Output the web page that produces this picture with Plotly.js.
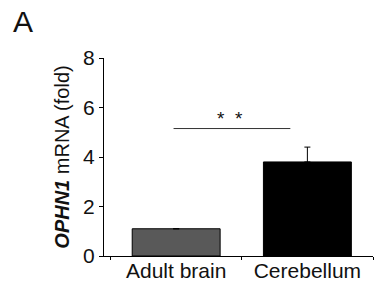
<!DOCTYPE html>
<html>
<head>
<meta charset="utf-8">
<script src="https://cdn.plot.ly/plotly-3.0.1.min.js"></script>
<style>html,body{margin:0;padding:0;background:#fff;}#chart{width:375px;height:283px;}</style>
</head>
<body>
<div id="chart"></div>
<script>
// Data
const categories = ["Adult brain", "Cerebellum"];
const foldValues = [1.1, 3.8];
const foldErrors = [null, 0.6];
const barColors = ["#595959", "#000000"];
const yTickValues = [0, 2, 4, 6, 8];
const sigLineX = [-0.02, 0.87];
const sigLineY = 5.15;
const sigLabel = "*&nbsp;&nbsp;*";
const sigLabelX = 0.41;
const sigLabelY = 5.55;
const panelLabel = "A";

const font = "Arial, 'Liberation Sans', sans-serif";

const trace = {
  type: "bar",
  x: categories,
  y: foldValues,
  width: 0.67,
  marker: {color: barColors, line: {color: "#000", width: 1}},
  error_y: {type: "data", array: foldErrors, arrayminus: [null, 0], symmetric: false,
            color: "#000", thickness: 1, width: 3, visible: true},
  hoverinfo: "skip"
};

const layout = {
  width: 375, height: 283,
  margin: {l: 104, r: 2, t: 58, b: 27},
  paper_bgcolor: "#fff", plot_bgcolor: "#fff",
  showlegend: false,
  font: {family: font, size: 21, color: "#111"},
  xaxis: {
    type: "category",
    range: [-0.55, 1.5],
    showline: true, linecolor: "#000", linewidth: 1,
    ticks: "outside", ticklen: 3, tickcolor: "#000", tickson: "boundaries",
    ticklabelstandoff: -4,
    tickfont: {size: 21, family: font, color: "#111"},
    showgrid: false, zeroline: false, fixedrange: true
  },
  yaxis: {
    range: [0, 8],
    tickvals: yTickValues,
    showline: true, linecolor: "#000", linewidth: 1,
    ticks: "outside", ticklen: 4, tickcolor: "#000",
    tickfont: {size: 21, family: font, color: "#111"},
    showgrid: false, zeroline: false, fixedrange: true,
    title: {text: "<b><i>OPHN1</i></b> mRNA (fold)", font: {size: 20, family: font, color: "#111"}, standoff: 8}
  },
  shapes: [{
    type: "line", xref: "x", yref: "y",
    x0: sigLineX[0], x1: sigLineX[1], y0: sigLineY, y1: sigLineY,
    line: {color: "#333", width: 1}
  }],
  annotations: [
    {text: sigLabel, xref: "x", yref: "y", x: sigLabelX, y: sigLabelY, showarrow: false,
     font: {size: 19, family: font, color: "#111"}},
    {text: panelLabel, xref: "paper", yref: "paper", x: -0.345, y: 1.28, xanchor: "left", yanchor: "top",
     showarrow: false, font: {size: 30, family: font, color: "#111"}}
  ]
};

Plotly.newPlot("chart", [trace], layout, {displayModeBar: false, staticPlot: true});
</script>
</body>
</html>
